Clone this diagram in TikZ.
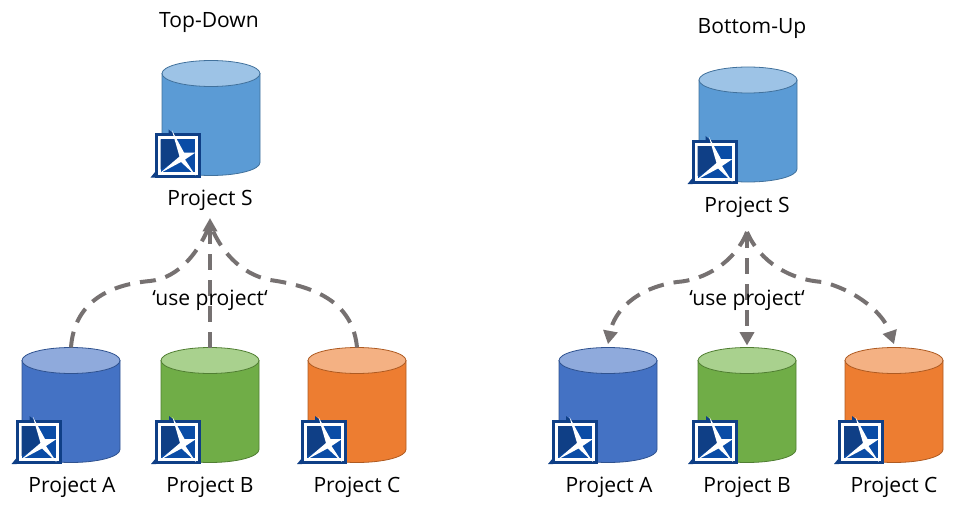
\documentclass[tikz,border=0pt]{standalone}
\usepackage{fontspec}
\setmainfont{Open Sans}
\usetikzlibrary{arrows.meta, shapes.geometric}
\definecolor{usegray}{HTML}{767171}
\definecolor{logoblue}{HTML}{0F3F86}
\definecolor{logomid}{HTML}{0A4CA6}
\definecolor{dbS}{HTML}{5B9BD5}
\definecolor{dbSend}{HTML}{9DC3E6}
\definecolor{dbSline}{HTML}{41719C}
\definecolor{dbA}{HTML}{4472C4}
\definecolor{dbAend}{HTML}{8FAADC}
\definecolor{dbAline}{HTML}{2F528F}
\definecolor{dbB}{HTML}{70AD47}
\definecolor{dbBend}{HTML}{A9D18E}
\definecolor{dbBline}{HTML}{507E32}
\definecolor{dbC}{HTML}{ED7D31}
\definecolor{dbCend}{HTML}{F4B183}
\definecolor{dbCline}{HTML}{AE5A21}
\tikzset{
    %Define standard arrow tip
    >={Triangle[width=10.5pt,length=10pt]},
}
\tikzset{
    logo/.pic = {
      \fill[logoblue] (-23,-22) rectangle (23,22);
      \fill[logoblue] (-27,22) -- (-22,16) -- (-22,22) -- cycle;
      \fill[logoblue] (-9,-26) -- (-4,-22) -- (-9,-22) -- cycle;
      \fill[white] (-20,-19) rectangle (20,19);
      \fill[logomid] (-17,-16) rectangle (17,16);
      \fill[logoblue] (-17,-16) -- (-3,-16) -- (5,2) -- (-17,14) -- cycle;
      \fill[white] (-5.5,-25) -- (6.5,-3) -- (18,-3) -- (7.5,4) -- (18,20)
                   -- (3.5,6.5) -- (-18,18) -- (2,1) -- cycle;
    },
}
% cylinder: name, position, colour set
\newcommand{\dbcyl}[3]{
  \node[dbbox] (#1) at (#2) {};
  \draw[line width=.6pt, draw=db#3line, fill=db#3] (#1.north west) ++(0,13) -- ++(0,89)
    arc[start angle=180, end angle=360, x radius=36.75pt, y radius=9.75pt] -- ++(0,-89) -- cycle;
  \draw[line width=.6pt, draw=db#3line, fill=db#3end] (#1.north) ++(0,13)
    ellipse [x radius=36.75pt, y radius=9.75pt];
}
\begin{document}
\begin{tikzpicture}[x=0.75pt, y=-0.75pt,
    dbbox/.style = {inner sep=0pt, outer sep=0pt, minimum height=86.25pt, minimum width=73.5pt},
    lbl/.style = {font=\fontsize{15.8}{19}\selectfont, inner sep=0pt, anchor=center},
    use/.style = {draw=usegray, line width=3pt, dash pattern=on 12pt off 7.5pt},
  ]
  \useasboundingbox (0,0) rectangle (955,506);

  % Top-Down
  \node[lbl] (titleTop) at (209,23) {Top-Down};
  \dbcyl{dbSTop}{211,118}{S}
  \dbcyl{dbATop}{71,405}{A}
  \dbcyl{dbBTop}{210,405}{B}
  \dbcyl{dbCTop}{357,405}{C}
  \node[lbl] (labelSTop) at (210,200) {Project S};
  \node[lbl] (labelATop) at (72,487) {Project A};
  \node[lbl] (labelBTop) at (210,487) {Project B};
  \node[lbl] (labelCTop) at (357,487) {Project C};
  \coordinate (hubTop) at (210,218);
  \coordinate (joinTop) at (210,224);
  \draw[use] (dbATop.north) .. controls (74,305) and (105,285) .. (150,281)
             .. controls (180,278) and (200,250) .. (joinTop);
  \draw[use] (dbCTop.north) .. controls (353,305) and (320,287) .. (270,280)
             .. controls (240,274) and (220,250) .. (joinTop);
  \draw[use, ->] (dbBTop.north) -- (hubTop);
  \node[lbl] (useTop) at (210,300) {‘use project‘};
  \pic at (177.5,155.5) {logo};
  \pic at (38.5,442) {logo};
  \pic at (178,442) {logo};
  \pic at (324,442) {logo};

  % Bottom-Up
  \node[lbl] (titleBot) at (752,29) {Bottom-Up};
  \dbcyl{dbSBot}{748,124.5}{S}
  \dbcyl{dbABot}{608,405}{A}
  \dbcyl{dbBBot}{747,405}{B}
  \dbcyl{dbCBot}{894,405}{C}
  \node[lbl] (labelSBot) at (747,207) {Project S};
  \node[lbl] (labelABot) at (609,487) {Project A};
  \node[lbl] (labelBBot) at (747,487) {Project B};
  \node[lbl] (labelCBot) at (894,487) {Project C};
  \coordinate (hubBot) at (747,232);
  \draw[use, ->] (hubBot) .. controls (735,262) and (705,280) .. (677,282)
             .. controls (635,288) and (614,312) .. ([yshift=2.5pt]dbABot.north);
  \draw[use, ->] (hubBot) .. controls (760,262) and (790,280) .. (823,282)
             .. controls (860,292) and (884,315) .. ([yshift=2.5pt]dbCBot.north);
  \draw[use, ->] (hubBot) -- ([yshift=1.5pt]dbBBot.north);
  \node[lbl] (useBot) at (747,300) {‘use project‘};
  \pic at (714.5,162) {logo};
  \pic at (575,442) {logo};
  \pic at (715,442) {logo};
  \pic at (861,442) {logo};
\end{tikzpicture}
\end{document}
